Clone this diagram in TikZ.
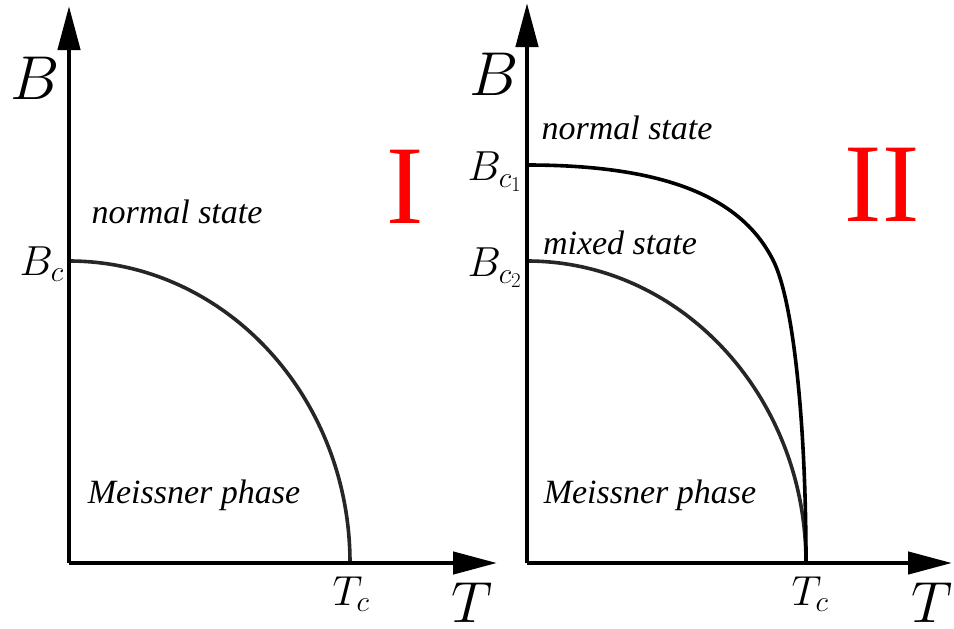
\RequirePackage{fix-cm}
\documentclass[tikz,border=0pt]{standalone}
\usepackage{fontspec}
\newfontfamily\statefont{Liberation Serif}
\newfontfamily\typefont{Liberation Serif}
\usetikzlibrary{arrows.meta}
\tikzset{
    axisline/.style={line width=4.5pt, -{Triangle[length=44pt, width=22pt]}},
    phaseline/.style={line width=3.6pt, black!85},
    critline/.style={line width=3.6pt, black},
    statelabel/.style={font=\statefont\itshape\fontsize{34}{34}\selectfont, inner sep=0pt},
    typelabel/.style={font=\typefont\fontsize{112}{112}\selectfont, text=red, inner sep=0pt},
    biglabel/.style={font=\fontsize{62}{62}\selectfont, inner sep=0pt},
    axislabel/.style={font=\fontsize{58}{58}\selectfont, inner sep=0pt},
    ticklabel/.style={font=\fontsize{42}{42}\selectfont, inner sep=0pt},
    common settings/.style={x=1pt, y=1pt}
}
\begin{document}
\begin{tikzpicture}[common settings]
    \useasboundingbox (0,0) rectangle (954,-629);

    % Type I
    \coordinate (O1) at (69,-563);
    \coordinate (Y1) at (69,-6);
    \coordinate (X1) at (497,-563);
    \coordinate (Bc) at (69,-261);
    \coordinate (Tc1) at (350,-563);
    \draw[phaseline] (Bc) arc[start angle=90, end angle=0, x radius=281, y radius=302];
    \draw[axisline] (O1) -- (Y1);
    \draw[axisline] (O1) -- (X1);

    \node[biglabel] (B1) at (35,-78) {$B$};
    \node[axislabel] (T1) at (472,-603) {$T$};
    \node[ticklabel, anchor=east] (Bclab) at (64,-264) {$B_c$};
    \node[ticklabel] (Tclab1) at (351,-594) {$T_c$};
    \node[typelabel] (typeI) at (405,-187) {I};
    \node[statelabel] (normal1) at (177,-212) {normal state};
    \node[statelabel] (meissner1) at (194,-495) {Meissner phase};

    % Type II
    \coordinate (O2) at (527,-563);
    \coordinate (Y2) at (527,-3);
    \coordinate (X2) at (952,-563);
    \coordinate (Bc1) at (527,-165);
    \coordinate (Bc2) at (527,-261);
    \coordinate (Tc2) at (806,-563);
    \coordinate (knee) at (773,-260);
    \draw[phaseline] (Bc2) arc[start angle=90, end angle=0, x radius=279, y radius=302];
    \draw[critline] (Bc1) .. controls (680,-165) and (745,-205) .. (knee)
        .. controls (793,-299) and (806,-420) .. (Tc2);
    \draw[axisline] (O2) -- (Y2);
    \draw[axisline] (O2) -- (X2);

    \node[biglabel] (B2) at (494,-74) {$B$};
    \node[axislabel] (T2) at (932,-603) {$T$};
    \node[ticklabel, anchor=east] (Bc1lab) at (522,-172) {$B_{c_1}$};
    \node[ticklabel, anchor=east] (Bc2lab) at (522,-268) {$B_{c_2}$};
    \node[ticklabel] (Tclab2) at (810,-594) {$T_c$};
    \node[typelabel] (typeII) at (882,-185) {II};
    \node[statelabel] (normal2) at (627,-128) {normal state};
    \node[statelabel] (mixed) at (620,-243) {mixed state};
    \node[statelabel] (meissner2) at (650,-495) {Meissner phase};
\end{tikzpicture}
\end{document}
